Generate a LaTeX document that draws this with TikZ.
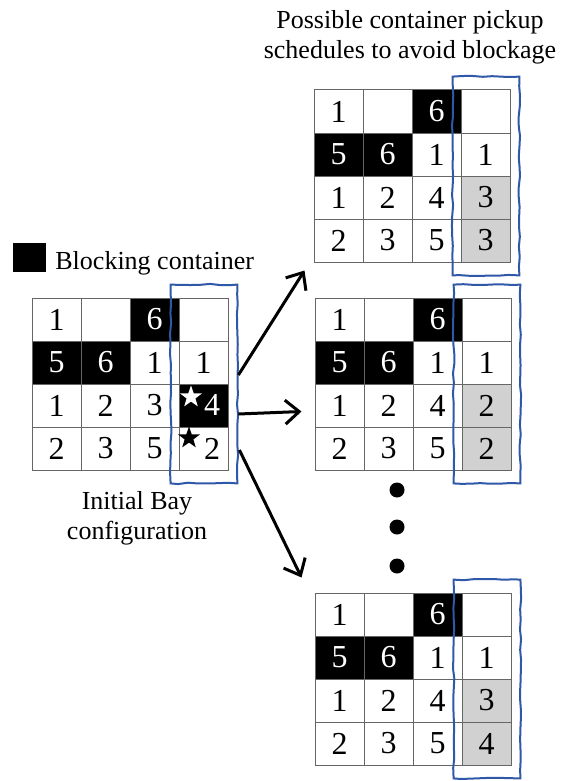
\documentclass[tikz,border=0pt]{standalone}
\usepackage{fontspec}
\setmainfont{Liberation Serif}
\usetikzlibrary{arrows.meta,shapes.geometric,positioning,decorations.pathmorphing}
\definecolor{boxblue}{RGB}{48,88,168}
\tikzset{
  cell/.style={draw=black!60,line width=0.5pt,minimum width=24.5pt,minimum height=21.5pt,
    inner sep=0pt,font=\fontsize{16}{16}\selectfont},
  blk/.style={fill=black,text=white},
  gry/.style={fill=black!18},
  wht/.style={fill=white},
  boxarea/.style={minimum width=33pt,minimum height=99pt,inner sep=0pt},
  pickbox/.style={draw=boxblue,line width=1pt,
    decorate,decoration={random steps,segment length=5pt,amplitude=0.35pt}},
  pickarrow/.style={line width=1.5pt,-{Straight Barb[length=7pt,width=12pt,line width=1.5pt]}},
  caption/.style={align=center,font=\fontsize{13}{15}\selectfont},
  blockstar/.style={star,star points=5,star point ratio=2.5,inner sep=0pt,minimum size=11.5pt}
}
% one bay: #1 name, #2 top left corner, #3 third row, #4 bottom row
\newcommand{\drawbay}[4]{%
  \begin{scope}[shift={#2}]
    \foreach \c/\t/\s in {1/1/wht,2//wht,3/6/blk,4//wht}
      \node[cell,\s] (#1-1-\c) at ({(\c-0.5)*49},21.5) {\t};
    \foreach \c/\t/\s in {1/5/blk,2/6/blk,3/1/wht,4/1/wht}
      \node[cell,\s] (#1-2-\c) at ({(\c-0.5)*49},64.5) {\t};
    \foreach \c/\t/\s in {#3}
      \node[cell,\s] (#1-3-\c) at ({(\c-0.5)*49},107.5) {\t};
    \foreach \c/\t/\s in {#4}
      \node[cell,\s] (#1-4-\c) at ({(\c-0.5)*49},150.5) {\t};
    \node[boxarea] (#1-box) at (172,86) {};
    \draw[pickbox] (#1-box.north west) -- (#1-box.north east) -- (#1-box.south east)
      -- (#1-box.south west) -- cycle;
  \end{scope}}
\begin{document}
\begin{tikzpicture}[x=0.5pt,y=-0.5pt]
  \useasboundingbox (0,0) rectangle (566,781);

  % legend
  \node[fill=black,minimum width=16.5pt,minimum height=14.5pt,inner sep=0pt] (legend-key) at (29.5,257.5) {};
  \node[caption,anchor=base west,inner sep=0pt] (legend-text) at (55,269) {Blocking container};

  % initial bay
  \drawbay{ini}{(32,298)}{1/1/wht,2/2/wht,3/3/wht,4//blk}{1/2/wht,2/3/wht,3/5/wht,4//wht}
  \node[blockstar,fill=white] (ini-wstar) at (191,397) {};
  \node[cell,draw=none,text=white] (ini-four) at (212,405) {4};
  \node[blockstar,fill=black] (ini-bstar) at (189,438) {};
  \node[cell,draw=none] (ini-two) at (212,449) {2};
  \node[caption] (ini-caption) at (137,518) {Initial Bay\\configuration};

  % pickup schedules
  \node[caption] (title) at (410,37) {Possible container pickup\\schedules to avoid blockage};
  \drawbay{top}{(314,90)}{1/1/wht,2/2/wht,3/4/wht,4/3/gry}{1/2/wht,2/3/wht,3/5/wht,4/3/gry}
  \drawbay{mid}{(315,298)}{1/1/wht,2/2/wht,3/4/wht,4/2/gry}{1/2/wht,2/3/wht,3/5/wht,4/2/gry}
  \drawbay{bot}{(315,593)}{1/1/wht,2/2/wht,3/4/wht,4/3/gry}{1/2/wht,2/3/wht,3/5/wht,4/4/gry}
  \foreach \y in {490,527,566}
    \fill (397,\y) circle (3.75pt);

  % arrows
  \draw[pickarrow] ([shift={(1,-9)}]ini-box.east) -- ([shift={(-9,8)}]top-4-1.south west);
  \draw[pickarrow] ([shift={(1,30)}]ini-box.east) -- ([shift={(-13,6)}]mid-3-1.west);
  \draw[pickarrow] ([shift={(2,66)}]ini-box.east) -- ([shift={(-13,-15)}]bot-1-1.north west);
\end{tikzpicture}
\end{document}
